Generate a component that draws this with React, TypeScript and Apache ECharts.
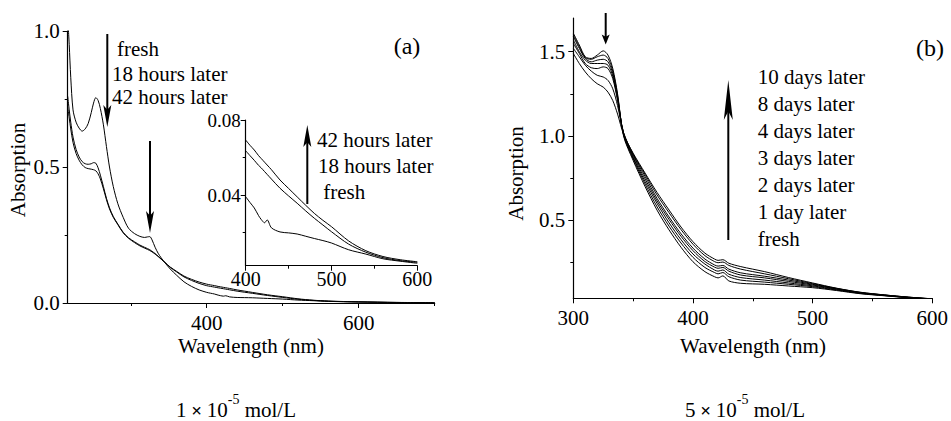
import React, { useEffect, useRef } from "react";
import * as echarts from "echarts";

// ---------- DATA ----------
// Panel (a), 1e-5 mol/L : wavelength (nm)
const A_WL = [217, 219, 221, 224, 228, 232, 236, 240, 244, 248, 251, 254, 257, 260, 264, 268, 272, 277, 283, 290, 297, 305, 312, 318, 322, 325, 328, 332, 336, 340, 345, 352, 360, 370, 380, 390, 400, 405, 410, 415, 418, 422, 425, 430, 440, 450, 460, 470, 480, 490, 500, 520, 540, 560, 580, 600, 650, 700];
const A_FRESH = [1.05, 0.95, 0.83, 0.71, 0.665, 0.643, 0.632, 0.64, 0.66, 0.7, 0.735, 0.755, 0.745, 0.715, 0.655, 0.575, 0.5, 0.428, 0.365, 0.315, 0.275, 0.255, 0.245, 0.241, 0.243, 0.244, 0.232, 0.205, 0.183, 0.166, 0.148, 0.125, 0.103, 0.078, 0.061, 0.048, 0.0391, 0.036, 0.0331, 0.029, 0.027, 0.0252, 0.0267, 0.0225, 0.0203, 0.0198, 0.0192, 0.018, 0.0168, 0.0157, 0.0144, 0.0108, 0.0085, 0.006, 0.0047, 0.0036, 0.0015, 0.0005];
const A_18H = [0.76, 0.71, 0.665, 0.61, 0.565, 0.537, 0.52, 0.512, 0.51, 0.512, 0.516, 0.514, 0.497, 0.47, 0.428, 0.385, 0.35, 0.318, 0.29, 0.26, 0.24, 0.225, 0.213, 0.205, 0.2, 0.196, 0.19, 0.182, 0.172, 0.162, 0.149, 0.131, 0.115, 0.096, 0.083, 0.072, 0.0636, 0.061, 0.0585, 0.0558, 0.0545, 0.0525, 0.051, 0.0485, 0.0436, 0.0395, 0.0356, 0.0315, 0.0276, 0.024, 0.0204, 0.0138, 0.0095, 0.0066, 0.005, 0.0041, 0.002, 0.0008];
const A_42H = [0.72, 0.68, 0.64, 0.59, 0.55, 0.525, 0.508, 0.498, 0.494, 0.492, 0.49, 0.486, 0.475, 0.456, 0.42, 0.38, 0.346, 0.315, 0.288, 0.258, 0.238, 0.222, 0.21, 0.202, 0.197, 0.193, 0.188, 0.18, 0.171, 0.161, 0.149, 0.132, 0.117, 0.099, 0.087, 0.077, 0.0693, 0.0665, 0.064, 0.061, 0.0595, 0.0575, 0.056, 0.0535, 0.048, 0.0435, 0.039, 0.0345, 0.0302, 0.0265, 0.0231, 0.0155, 0.0103, 0.0072, 0.0055, 0.0044, 0.0022, 0.001];
const A_NAMES = ["fresh", "18 hours later", "42 hours later"];

// Panel (b), 5e-5 mol/L
const B_WL = [300, 305, 310, 315, 320, 325, 329, 333, 337, 342, 350, 360, 370, 380, 390, 400, 410, 418, 421, 425, 430, 440, 460, 480, 500, 520, 540, 560, 580, 600];
const B_FRESH = [1.61, 1.54, 1.47, 1.46, 1.48, 1.505, 1.48, 1.4, 1.25, 1.0, 0.855, 0.7, 0.56, 0.443, 0.34, 0.254, 0.195, 0.165, 0.158, 0.17, 0.14, 0.126, 0.12, 0.11, 0.1, 0.083, 0.064, 0.052, 0.04, 0.031];
const B_1D = [1.6, 1.53, 1.465, 1.455, 1.47, 1.48, 1.46, 1.385, 1.24, 1.005, 0.865, 0.715, 0.58, 0.465, 0.365, 0.28, 0.22, 0.19, 0.182, 0.19, 0.165, 0.145, 0.133, 0.12, 0.106, 0.086, 0.066, 0.053, 0.041, 0.032];
const B_2D = [1.59, 1.52, 1.46, 1.44, 1.45, 1.455, 1.44, 1.37, 1.23, 1.01, 0.872, 0.73, 0.6, 0.485, 0.385, 0.3, 0.24, 0.205, 0.198, 0.205, 0.18, 0.16, 0.145, 0.128, 0.111, 0.089, 0.068, 0.054, 0.042, 0.032];
const B_3D = [1.57, 1.5, 1.45, 1.43, 1.43, 1.43, 1.42, 1.355, 1.22, 1.015, 0.88, 0.745, 0.615, 0.505, 0.405, 0.32, 0.255, 0.222, 0.215, 0.22, 0.198, 0.175, 0.158, 0.137, 0.116, 0.092, 0.069, 0.055, 0.042, 0.033];
const B_4D = [1.55, 1.49, 1.43, 1.405, 1.4, 1.41, 1.4, 1.34, 1.21, 1.02, 0.887, 0.76, 0.63, 0.52, 0.42, 0.335, 0.27, 0.235, 0.228, 0.232, 0.21, 0.188, 0.168, 0.145, 0.12, 0.094, 0.07, 0.056, 0.043, 0.033];
const B_8D = [1.52, 1.47, 1.42, 1.385, 1.36, 1.35, 1.33, 1.28, 1.18, 1.02, 0.893, 0.772, 0.65, 0.545, 0.445, 0.358, 0.29, 0.255, 0.248, 0.252, 0.232, 0.21, 0.182, 0.153, 0.124, 0.096, 0.072, 0.057, 0.044, 0.034];
const B_10D = [1.49, 1.43, 1.38, 1.34, 1.31, 1.29, 1.26, 1.21, 1.13, 1.01, 0.898, 0.78, 0.665, 0.561, 0.46, 0.373, 0.305, 0.27, 0.262, 0.266, 0.245, 0.225, 0.195, 0.16, 0.128, 0.097, 0.073, 0.057, 0.044, 0.034];
const B_NAMES = ["fresh", "1 day later", "2 days later", "3 days later", "4 days later", "8 days later", "10 days later"];

// Tick values
const A_X_MAJOR = [400, 600];
const A_X_MINOR = [300, 500, 700];
const INSET_Y_MAJOR = [0.04, 0.08];
const INSET_Y_MINOR = [0.02, 0.06];
const B_Y_MAJOR = [0.5, 1.0, 1.5];
const B_Y_MINOR = [0.25, 0.75, 1.25];

// Annotation texts
const A_ANNOT = ["fresh", "18 hours later", "42 hours later"];
const INSET_ANNOT = ["42 hours later", "18 hours later", " fresh"];
const B_ANNOT = ["10 days later", "8 days later", "4 days later", "3 days later", "2 days later", "1 day later", "fresh"];

// ---------- STYLE ----------
const FONT = "'Liberation Serif', 'Times New Roman', Times, serif";
const BLACK = "#000";

const pairs = (xs: number[], ys: number[]) => xs.map((x, i) => [x, ys[i]]);

function mainAxis(o: any) {
  return {
    type: "value",
    gridIndex: o.grid,
    min: o.min,
    max: o.max,
    interval: o.interval,
    position: o.position,
    splitLine: { show: false },
    axisLine: { show: true, onZero: false, lineStyle: { color: BLACK, width: 1.2 } },
    axisTick: {
      show: true,
      length: 5,
      lineStyle: { color: BLACK, width: 1 },
      ...(o.tickValues ? { customValues: o.tickValues } : {}),
    },
    minorTick: o.minor
      ? { show: true, splitNumber: 2, length: 3, lineStyle: { color: BLACK, width: 1 } }
      : { show: false },
    axisLabel: {
      color: BLACK,
      fontFamily: FONT,
      fontSize: o.fontSize || 21,
      lineHeight: o.lineHeight,
      margin: o.margin,
      formatter: o.fmt,
      ...(o.tickValues ? { customValues: o.tickValues } : {}),
    },
  };
}

function minorAxis(o: any) {
  return {
    type: "value",
    gridIndex: o.grid,
    min: o.min,
    max: o.max,
    position: o.position,
    splitLine: { show: false },
    axisLine: { show: false, onZero: false },
    axisLabel: { show: false },
    axisTick: { show: true, length: 3, customValues: o.tickValues, lineStyle: { color: BLACK, width: 1 } },
  };
}

function arrow(x: number, tailY: number, tipY: number, headLen: number, halfW: number) {
  const dir = tipY > tailY ? 1 : -1;
  const baseY = tipY - dir * headLen;
  return [
    {
      type: "line",
      shape: { x1: x, y1: tailY, x2: x, y2: baseY + dir * headLen * 0.3 },
      style: { stroke: BLACK, lineWidth: 2 },
    },
    {
      type: "polygon",
      shape: { points: [[x, tipY], [x - halfW, baseY], [x, baseY + dir * headLen * 0.22], [x + halfW, baseY]] },
      style: { fill: BLACK },
    },
  ];
}

function label(text: string, x: number, y: number, opts: any = {}) {
  return {
    type: "text",
    x,
    y,
    rotation: opts.rotation || 0,
    style: {
      text,
      fill: BLACK,
      fontFamily: FONT,
      fontSize: opts.fontSize || 21,
      lineHeight: opts.lineHeight || 18,
      textAlign: opts.align || "left",
      align: opts.align || "left",
      textVerticalAlign: "middle",
      verticalAlign: "middle",
    },
  };
}

function concLabel(lead: string, x: number, y: number) {
  return {
    type: "text",
    x,
    y,
    style: {
      text: `{n|${lead}}{x| × }{n|10}{s|-5}{n| mol/L}`,
      fontFamily: FONT,
      textAlign: "center",
      align: "center",
      textVerticalAlign: "middle",
      verticalAlign: "middle",
      rich: {
        n: { fontFamily: FONT, fontSize: 21, lineHeight: 36, fill: BLACK, color: BLACK },
        x: { fontFamily: FONT, fontSize: 19, fontWeight: "bold", lineHeight: 36, fill: BLACK, color: BLACK },
        s: { fontFamily: FONT, fontSize: 14, lineHeight: 14, verticalAlign: "top", fill: BLACK, color: BLACK },
      },
    },
  };
}

export default function App() {
  const ref = useRef<HTMLDivElement>(null);

  useEffect(() => {
    document.body.style.margin = "0";
    if (!ref.current) return;
    const chart = echarts.init(ref.current, null, { renderer: "svg" });

    const lineSeries = (name: string, data: number[][], xi: number, yi: number) => ({
      type: "line",
      name,
      data,
      xAxisIndex: xi,
      yAxisIndex: yi,
      showSymbol: false,
      symbol: "none",
      smooth: 0.3,
      clip: true,
      silent: true,
      lineStyle: { color: BLACK, width: 1 },
    });

    const aSets = [A_FRESH, A_18H, A_42H];
    const bSets = [B_FRESH, B_1D, B_2D, B_3D, B_4D, B_8D, B_10D];
    const insetIdx = A_WL.map((w, i) => (w >= 400 && w <= 600 ? i : -1)).filter((i) => i >= 0);

    const series: any[] = [];
    aSets.forEach((ys, k) => series.push(lineSeries(A_NAMES[k], pairs(A_WL, ys), 0, 0)));
    aSets.forEach((ys, k) =>
      series.push(lineSeries(A_NAMES[k] + " (inset)", insetIdx.map((i) => [A_WL[i], ys[i]]), 2, 1))
    );
    bSets.forEach((ys, k) => series.push(lineSeries(B_NAMES[k], pairs(B_WL, ys), 3, 3)));

    const option: any = {
      animation: false,
      backgroundColor: "#fff",
      textStyle: { fontFamily: FONT },
      grid: [
        { left: 67.7, top: 31, width: 367, height: 272, containLabel: false },
        { left: 245.7, top: 120, width: 171.6, height: 145.7, containLabel: false },
        { left: 573.3, top: 18, width: 360, height: 280.3, containLabel: false },
      ],
      xAxis: [
        mainAxis({ grid: 0, min: 217, max: 700, position: "bottom", tickValues: A_X_MAJOR, margin: 9 }),
        minorAxis({ grid: 0, min: 217, max: 700, position: "bottom", tickValues: A_X_MINOR }),
        mainAxis({ grid: 1, min: 400, max: 600, interval: 100, minor: true, position: "bottom", margin: 3, fontSize: 20 }),
        mainAxis({ grid: 2, min: 300, max: 600, interval: 100, minor: true, position: "bottom", margin: 9 }),
      ],
      yAxis: [
        mainAxis({ grid: 0, min: 0, max: 1, interval: 0.5, minor: true, position: "left", margin: 8, fmt: (v: number) => v.toFixed(1) }),
        mainAxis({ grid: 1, min: 0.0023, max: 0.08, position: "left", tickValues: INSET_Y_MAJOR, margin: 5, fontSize: 19, lineHeight: 15, fmt: (v: number) => v.toFixed(2) }),
        minorAxis({ grid: 1, min: 0.0023, max: 0.08, position: "left", tickValues: INSET_Y_MINOR }),
        mainAxis({ grid: 2, min: 0.037, max: 1.7, position: "left", tickValues: B_Y_MAJOR, margin: 8, fmt: (v: number) => v.toFixed(1) }),
        minorAxis({ grid: 2, min: 0.037, max: 1.7, position: "left", tickValues: B_Y_MINOR }),
      ],
      series,
      graphic: [
        // panel labels
        label("(a)", 407, 46, { fontSize: 24, lineHeight: 24, align: "center" }),
        label("(b)", 930, 48, { fontSize: 24, lineHeight: 24, align: "center" }),
        // axis titles
        label("Absorption", 17.5, 170, { rotation: Math.PI / 2, align: "center" }),
        label("Absorption", 515.5, 173.5, { rotation: Math.PI / 2, align: "center" }),
        label("Wavelength (nm)", 251, 346, { align: "center" }),
        label("Wavelength (nm)", 753, 346, { align: "center" }),
        // concentration labels
        concLabel("1", 236, 410),
        concLabel("5", 745, 410),
        // annotations (a)
        label(A_ANNOT[0], 117, 49),
        label(A_ANNOT[1], 112, 74),
        label(A_ANNOT[2], 112, 97),
        label(INSET_ANNOT[0], 317, 140),
        label(INSET_ANNOT[1], 318, 166),
        label(INSET_ANNOT[2], 318, 192),
        // annotations (b)
        ...B_ANNOT.map((t, i) => label(t, 757.7, 77.3 + i * 26.95)),
        // arrows
        ...arrow(107.3, 34, 127, 22, 4),
        ...arrow(150, 141, 233, 22, 4),
        ...arrow(307.3, 204, 125, 22, 4),
        ...arrow(605.7, 13, 44.5, 10, 4),
        ...arrow(728.3, 240, 80, 40, 4.5),
      ],
    };

    chart.setOption(option);
    return () => chart.dispose();
  }, []);

  return <div ref={ref} style={{ width: 951, height: 421 }} />;
}
